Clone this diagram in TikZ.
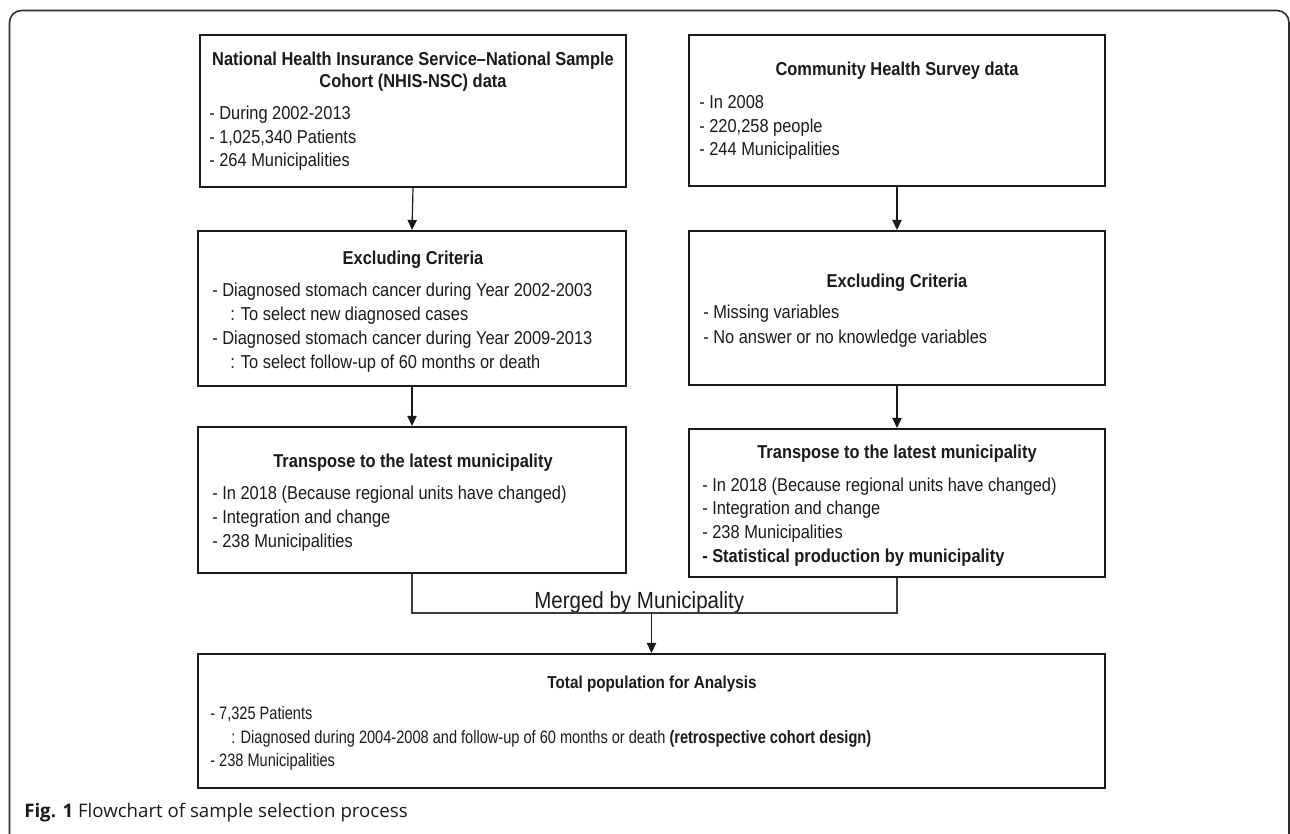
\documentclass[tikz,border=0pt]{standalone}
\usepackage{fontspec}
\setmainfont{Liberation Sans}[FakeStretch=0.88]
\newfontfamily\narrowfont{Liberation Sans}[FakeStretch=0.81]
\newfontfamily\capfont{Open Sans}
\usetikzlibrary{arrows.meta,fit}
\definecolor{ink}{HTML}{1A1A1A}
\definecolor{framec}{HTML}{2E2E2E}
\tikzset{
  box/.style={draw=ink, line width=1.6pt, inner sep=0pt, fill=none},
  txt/.style={inner sep=0pt, anchor=base west, font=\fontsize{14}{18}\selectfont, text=ink},
  ttl/.style={inner sep=0pt, anchor=base, font=\fontsize{14}{18}\selectfont\bfseries, text=ink},
  gtxt/.style={txt, font=\narrowfont\fontsize{13.5}{17}\selectfont},
  conn/.style={draw=ink, line width=0.9pt},
  arr/.style={conn, -{Triangle[length=7.5pt,width=7pt]}},
  mline/.style={draw=ink!85, line width=0.8pt},
}
\begin{document}
\begin{tikzpicture}[x=0.75pt,y=-0.75pt]
\useasboundingbox (0,0) rectangle (1290,833);
\begin{scope}
\clip (0,0) rectangle (1290,833);
\draw[framec, line width=1.2pt, rounded corners=9pt] (9.5,845) -- (9.5,10.5) -- (1289,10.5) -- (1289,845);
\end{scope}

% boxes
\node[box, fit={(200,35) (626,187)}] (A) {};
\node[box, fit={(689,35) (1105,186)}] (B) {};
\node[box, fit={(198,231) (626,386)}] (C) {};
\node[box, fit={(689,231) (1105,385)}] (D) {};
\node[box, fit={(198,427) (626,573)}] (E) {};
\node[box, fit={(689,429) (1105,577)}] (F) {};
\node[box, fit={(198,654) (1105,788)}] (G) {};

% box A
\node[ttl] (a0) at (413,65) {National Health Insurance Service–National Sample};
\node[ttl] (a1) at (413,87) {Cohort (NHIS-NSC) data};
\node[txt] (a2) at (209,119) {- During 2002-2013};
\node[txt] (a3) at (209,143) {- 1,025,340 Patients};
\node[txt] (a4) at (209,166) {- 264 Municipalities};

% box B
\node[ttl] (b0) at (897,75) {Community Health Survey data};
\node[txt] (b1) at (699,108) {- In 2008};
\node[txt] (b2) at (699,132) {- 220,258 people};
\node[txt] (b3) at (699,155) {- 244 Municipalities};

% box C
\node[ttl] (c0) at (413,264) {Excluding Criteria};
\node[txt] (c1) at (212,296) {- Diagnosed stomach cancer during Year 2002-2003};
\node[txt] (c2) at (230,320) {: To select new diagnosed cases};
\node[txt] (c3) at (212,344) {- Diagnosed stomach cancer during Year 2009-2013};
\node[txt] (c4) at (230,368) {: To select follow-up of 60 months or death};

% box D
\node[ttl] (d0) at (897,287) {Excluding Criteria};
\node[txt] (d1) at (703,318) {- Missing variables};
\node[txt] (d2) at (703,343) {- No answer or no knowledge variables};

% box E
\node[ttl] (e0) at (413,467) {Transpose to the latest municipality};
\node[txt] (e1) at (212,499) {- In 2018 (Because regional units have changed)};
\node[txt] (e2) at (212,523) {- Integration and change};
\node[txt] (e3) at (212,547) {- 238 Municipalities};

% box F
\node[ttl] (f0) at (897,458) {Transpose to the latest municipality};
\node[txt] (f1) at (702,491) {- In 2018 (Because regional units have changed)};
\node[txt] (f2) at (702,514) {- Integration and change};
\node[txt] (f3) at (702,538) {- 238 Municipalities};
\node[txt, font=\fontsize{14}{18}\selectfont\bfseries] (f4) at (702,562) {- Statistical production by municipality};

% box G
\node[ttl, font=\fontsize{13}{17}\selectfont\bfseries] (g0) at (652,688) {Total population for Analysis};
\node[gtxt] (g1) at (210,719) {- 7,325 Patients};
\node[gtxt] (g2) at (231,743) {: Diagnosed during 2004-2008 and follow-up of 60 months or death \textbf{(retrospective cohort design)}};
\node[gtxt] (g3) at (210,766) {- 238 Municipalities};

% merge label
\node[txt, font=\fontsize{17.5}{20}\selectfont] (mlab) at (534,608) {Merged by Municipality};

% connectors
\draw[arr] (A.south) -- (C.north);
\draw[arr] (B.south) -- (D.north);
\draw[arr] (C.south) -- (E.north);
\draw[arr] (D.south) -- (F.north);
\coordinate (mL) at (412,613);
\coordinate (mR) at (897,613);
\coordinate (mC) at (651.5,613);
\draw[mline] (E.south) -- (mL) -- (mR) -- (F.south);
\draw[arr] (mC) -- (G.north);

% caption
\node[inner sep=0pt, anchor=base west, font=\capfont\fontsize{14}{16}\selectfont, text=ink] (cap) at (24,817) {\textbf{Fig. 1} Flowchart of sample selection process};
\end{tikzpicture}
\end{document}
